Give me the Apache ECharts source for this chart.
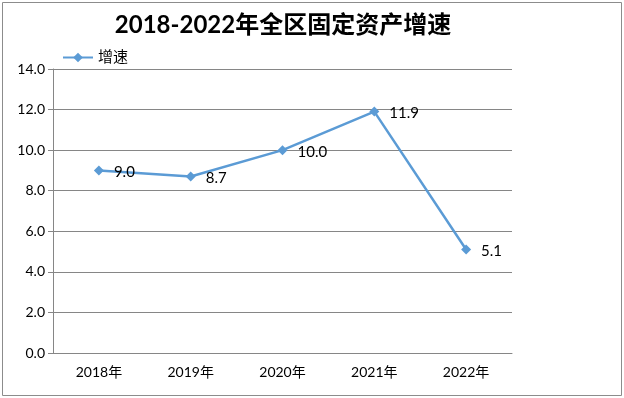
<!DOCTYPE html>
<html>
<head>
<meta charset="utf-8">
<script src="https://cdn.jsdelivr.net/npm/echarts@6/dist/echarts.min.js"></script>
<style>
  html, body { margin: 0; padding: 0; background: #fff; }
  #chart { width: 624px; height: 398px; }
</style>
</head>
<body>
<div id="chart"></div>
<script>
const categories = ['2018年', '2019年', '2020年', '2021年', '2022年']
const growth = [9.0, 8.7, 10.0, 11.9, 5.1]
const seriesName = '增速'
const titleText = '2018-2022年全区固定资产增速'

const fontCn = 'Lato, "Noto Sans CJK SC", sans-serif'
const blue = '#5b9bd5'
const gridGray = '#868686'

const option = {
    backgroundColor: '#fff',
    animation: false,
    graphic: [
        {
            type: 'rect',
            shape: { x: 2.5, y: 2.5, width: 619, height: 393 },
            style: { fill: 'none', stroke: '#8c8c8c', lineWidth: 1 },
            silent: true
        }
    ],
    title: {
        text: titleText,
        left: 278,
        textAlign: 'center',
        top: 8,
        textStyle: {
            fontFamily: fontCn,
            fontWeight: 'bold',
            fontSize: 24,
            color: '#000'
        }
    },
    legend: {
        data: [seriesName],
        left: 57,
        top: 45,
        itemWidth: 30,
        itemHeight: 12,
        itemGap: 6,
        textStyle: { fontFamily: fontCn, fontSize: 15, color: '#000' }
    },
    grid: {
        left: 53,
        right: 112,
        top: 69,
        bottom: 45
    },
    xAxis: {
        type: 'category',
        data: categories,
        boundaryGap: true,
        axisLine: { lineStyle: { color: gridGray } },
        axisTick: { length: 6, lineStyle: { color: gridGray } },
        axisLabel: { fontFamily: fontCn, fontSize: 14, color: '#000', margin: 12 }
    },
    yAxis: {
        type: 'value',
        min: 0,
        max: 14,
        interval: 2,
        axisLine: { show: true, lineStyle: { color: gridGray } },
        axisTick: { show: true, length: 5, lineStyle: { color: gridGray } },
        splitLine: { lineStyle: { color: gridGray } },
        axisLabel: {
            fontFamily: fontCn,
            fontSize: 14,
            color: '#000',
            margin: 8,
            formatter: function (v) { return v.toFixed(1) }
        }
    },
    series: [
        {
            name: seriesName,
            type: 'line',
            data: growth,
            symbol: 'diamond',
            symbolSize: 10,
            itemStyle: { color: blue },
            lineStyle: { color: blue, width: 2.5 },
            label: {
                show: true,
                position: 'right',
                distance: 10,
                offset: [0, 2],
                fontFamily: fontCn,
                fontSize: 15,
                color: '#000',
                formatter: function (p) { return p.value.toFixed(1) }
            }
        }
    ]
}

const chart = echarts.init(document.getElementById('chart'))
chart.setOption(option)
</script>
</body>
</html>
